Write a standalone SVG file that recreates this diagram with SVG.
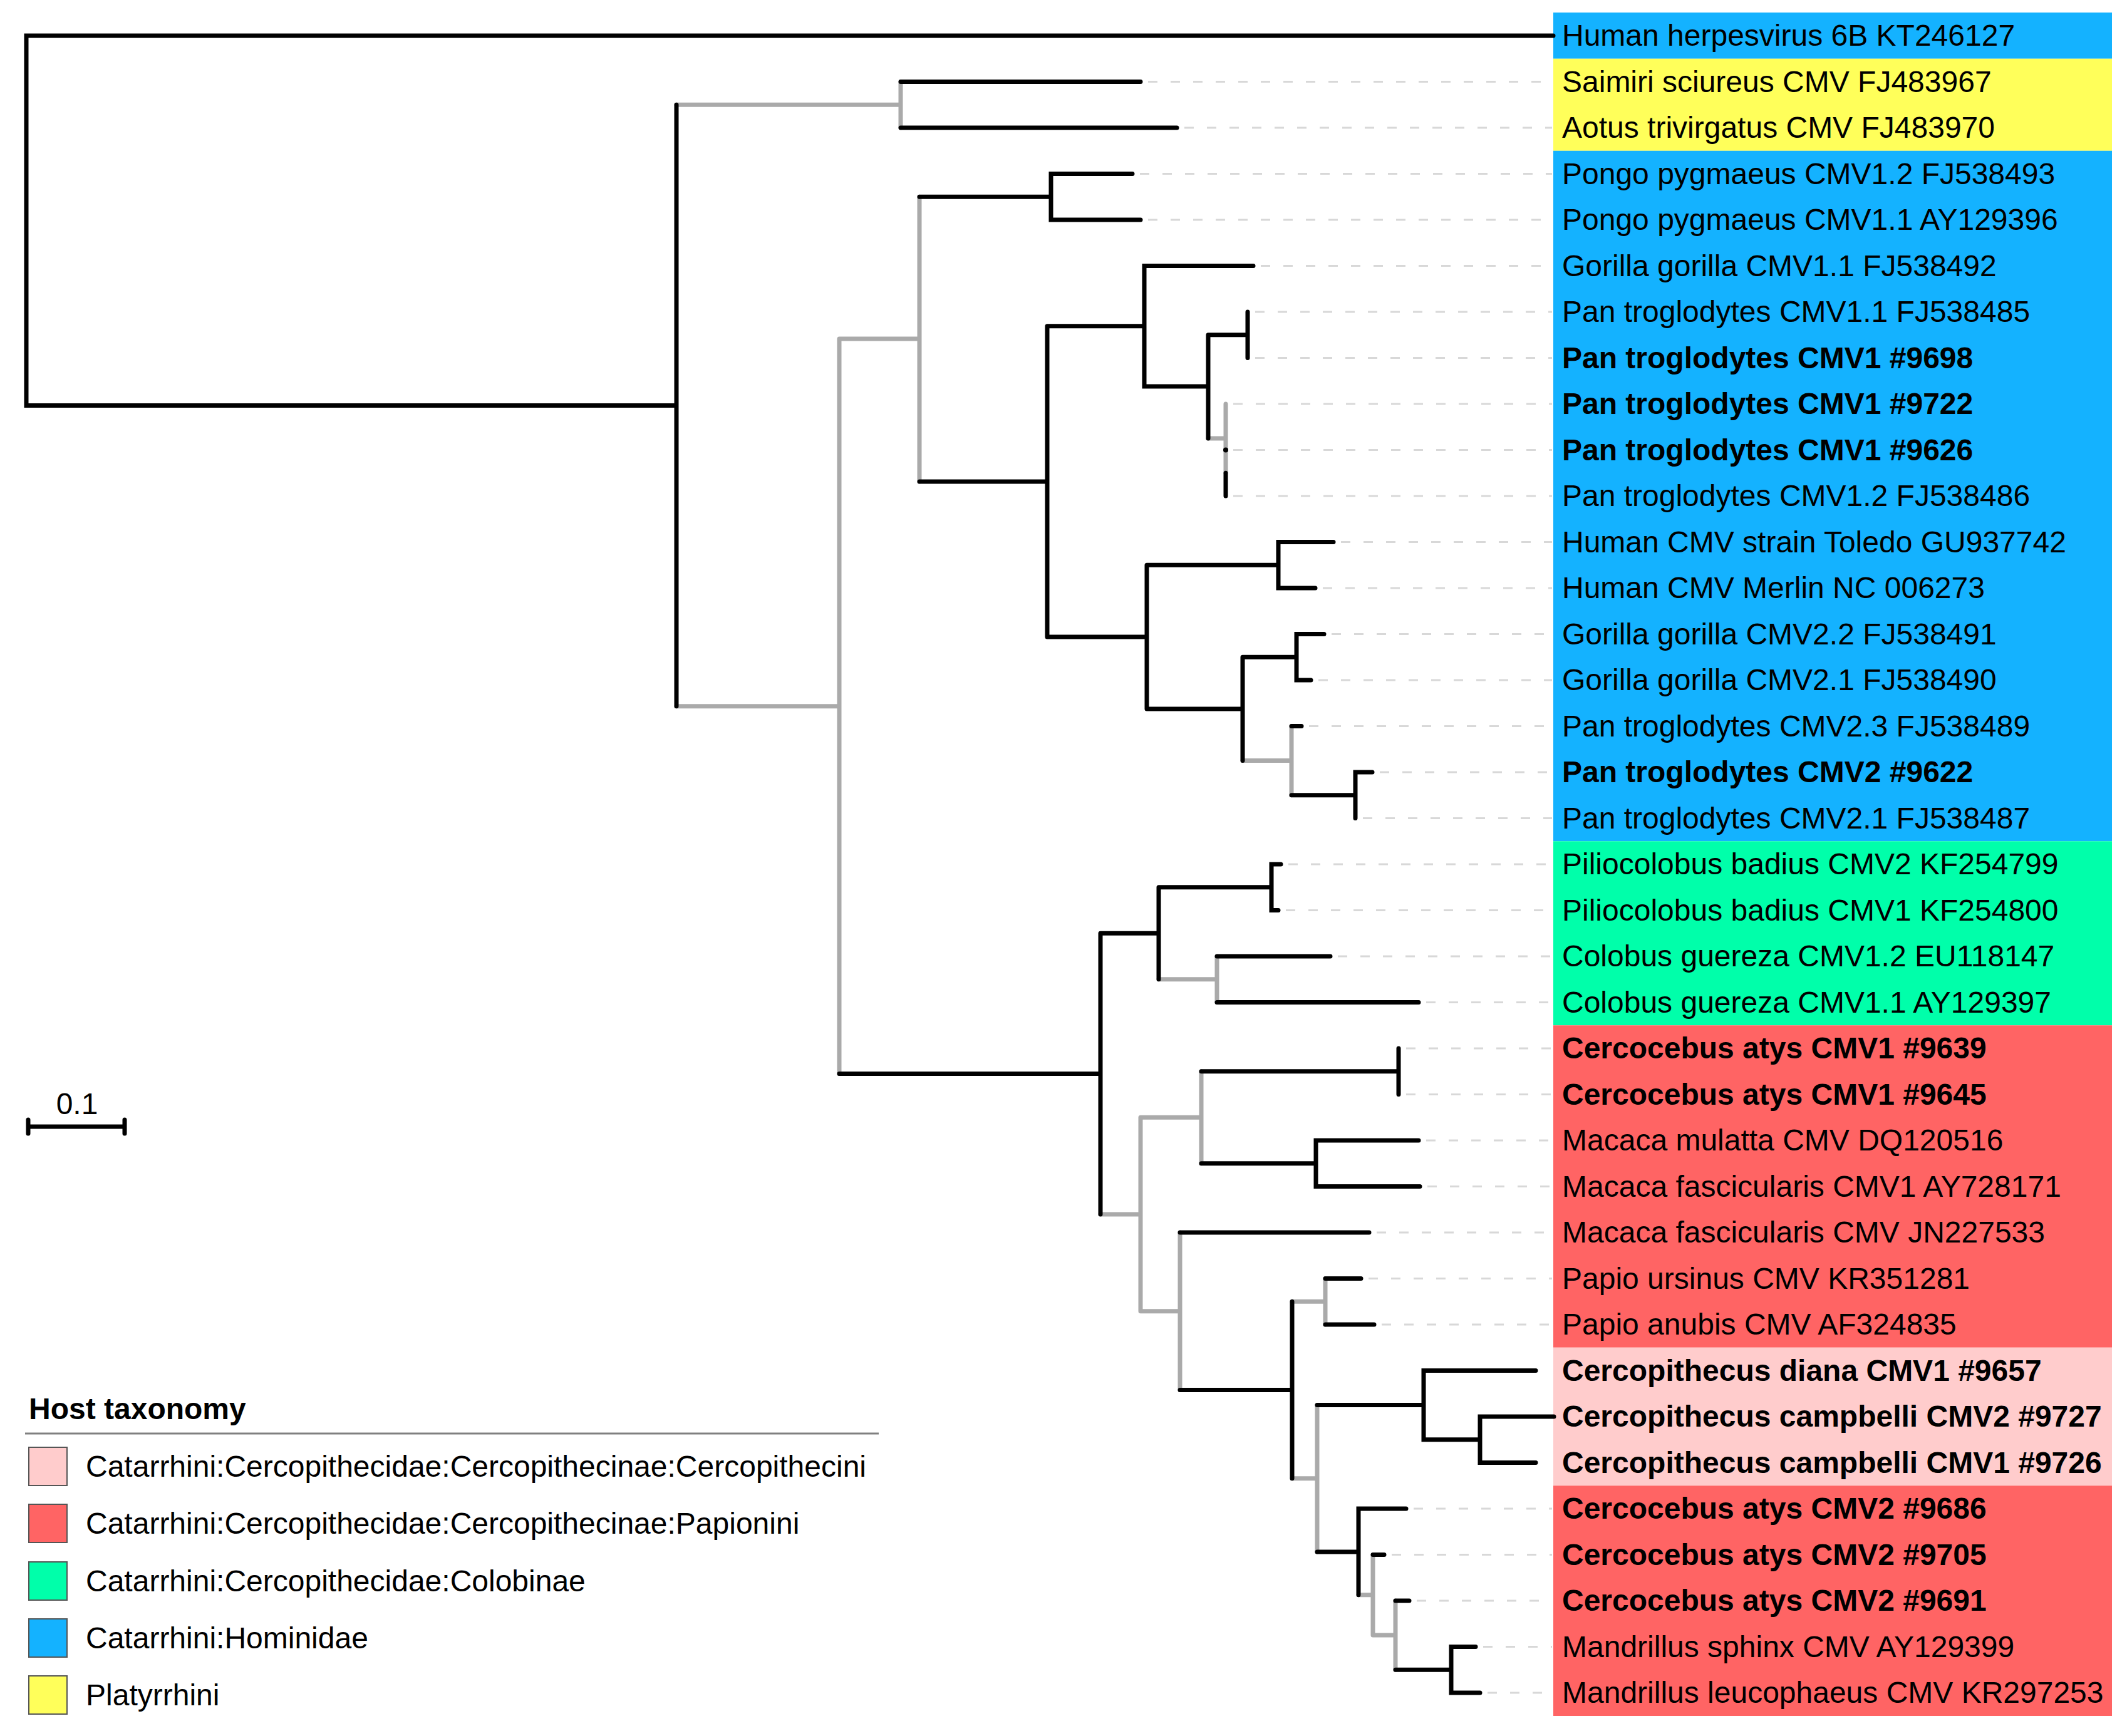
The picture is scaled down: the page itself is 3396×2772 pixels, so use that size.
<svg xmlns="http://www.w3.org/2000/svg" width="3396" height="2772" viewBox="0 0 3396 2772">
<style>
text{font-family:"Liberation Sans",Arial,sans-serif;font-size:48px;fill:#000}
.b{font-weight:bold}
.k{fill:none;stroke:#000;stroke-width:7;stroke-linecap:round;stroke-linejoin:miter}
.g{fill:none;stroke:#aaaaaa;stroke-width:7;stroke-linecap:round;stroke-linejoin:miter}
.d{fill:none;stroke:#d8d8d8;stroke-width:3;stroke-dasharray:15 21}
.blue{fill:#14b2ff}.yel{fill:#ffff5a}.grn{fill:#00ffaa}.red{fill:#ff6464}.pnk{fill:#ffcccc}
.lb{stroke:#555;stroke-width:2}
</style>
<rect width="3396" height="2772" fill="#fff"/>
<g id="bands">
<rect class="blue" x="2480" y="20" width="892" height="73.75"/>
<rect class="yel" x="2480" y="93.75" width="892" height="147"/>
<rect class="blue" x="2480" y="240.75" width="892" height="1102.5"/>
<rect class="grn" x="2480" y="1343.25" width="892" height="294"/>
<rect class="red" x="2480" y="1637.25" width="892" height="514.5"/>
<rect class="pnk" x="2480" y="2151.75" width="892" height="220.5"/>
<rect class="red" x="2480" y="2372.25" width="892" height="367.75"/>
</g>
<g id="leaders">
<path class="d" d="M1833 130.5H2478M1891 204H2478M1820 277.5H2478M1833 351H2478M2013 424.5H2478M2004 498H2478M2004 571.5H2478M1969 645H2478M1969 718.5H2478M1969 792H2478M2141 865.5H2478M2112 939H2478M2126 1012.5H2478M2105 1086H2478M2090 1159.5H2478M2203 1233H2478M2176 1306.5H2478M2057 1380H2478M2053 1453.5H2478M2136 1527H2478M2277 1600.5H2478M2245 1674H2478M2245 1747.5H2478M2277 1821H2478M2279 1894.5H2478M2198 1968H2478M2185 2041.5H2478M2206 2115H2478M2257 2409H2478M2222 2482.5H2478M2262 2556H2478M2368 2629.5H2478M2375 2703H2478"/>
</g>
<g id="connectors">
<path class="g" d="M1080 167.25H1438M1438 130.5V204M1080 1127.8H1340M1340 541V1714.6M1340 541H1468M1468 314.25V768.9M1929 700H1957M1957 645V755.25M1984 1214.6H2062M2062 1159.5V1269.75M1850 1563.75H1943M1943 1527V1600.5M1757 1939H1821M1821 1784.25V2093.75M1821 1784.25H1918M1918 1710.75V1857.75M1821 2093.75H1884M1884 1968V2219.5M2063 2078.25H2116M2116 2041.5V2115M2063 2360.75H2103M2103 2243.6V2477.9M2169 2546.75H2192M2192 2482.5V2611M2192 2611H2228M2228 2556V2666.25"/>
<path class="k" d="M2480 57H42V647.5H1080M1080 167.25V1127.8M1438 130.5H1821M1438 204H1879M1468 314.25H1678M1808 277.5H1678V351H1821M1468 768.9H1672M1672 520.75V1017M1672 520.75H1827M2001 424.5H1827V617H1929M1929 534.75V700M1929 534.75H1992M1992 498V571.5M1957 755.25V792M1672 1017H1831M1831 902.25V1131.9M1831 902.25H2041M2129 865.5H2041V939H2100M1831 1131.9H1984M1984 1049.25V1214.6M1984 1049.25H2070M2114 1012.5H2070V1086H2093M2062 1159.5H2078M2062 1269.75H2164M2191 1233H2164V1306.5M1340 1714.6H1757M1757 1490.25V1939M1757 1490.25H1850M1850 1416.75V1563.75M1850 1416.75H2030M2045 1380H2030V1453.5H2041M1943 1527H2124M1943 1600.5H2265M1918 1710.75H2233M2233 1674V1747.5M1918 1857.75H2101M2265 1821H2101V1894.5H2267M1884 1968H2186M1884 2219.5H2063M2063 2078.25V2360.75M2116 2041.5H2173M2116 2115H2194M2103 2243.6H2273M2452 2188.5H2273V2298.75H2363M2481 2262H2363V2335.5H2452M2103 2477.9H2169M2245 2409H2169V2546.75M2192 2482.5H2210M2228 2556H2250M2228 2666.25H2317M2356 2629.5H2317V2703H2363"/>
<circle cx="1957" cy="718.5" r="4" fill="#000"/>
</g>
<g id="leaf-0"><text x="2494" y="73">Human herpesvirus 6B KT246127</text></g>
<g id="leaf-1"><text x="2494" y="146.5">Saimiri sciureus CMV FJ483967</text></g>
<g id="leaf-2"><text x="2494" y="220">Aotus trivirgatus CMV FJ483970</text></g>
<g id="leaf-3"><text x="2494" y="293.5">Pongo pygmaeus CMV1.2 FJ538493</text></g>
<g id="leaf-4"><text x="2494" y="367">Pongo pygmaeus CMV1.1 AY129396</text></g>
<g id="leaf-5"><text x="2494" y="440.5">Gorilla gorilla CMV1.1 FJ538492</text></g>
<g id="leaf-6"><text x="2494" y="514">Pan troglodytes CMV1.1 FJ538485</text></g>
<g id="leaf-7"><text class="b" x="2494" y="587.5">Pan troglodytes CMV1 #9698</text></g>
<g id="leaf-8"><text class="b" x="2494" y="661">Pan troglodytes CMV1 #9722</text></g>
<g id="leaf-9"><text class="b" x="2494" y="734.5">Pan troglodytes CMV1 #9626</text></g>
<g id="leaf-10"><text x="2494" y="808">Pan troglodytes CMV1.2 FJ538486</text></g>
<g id="leaf-11"><text x="2494" y="881.5">Human CMV strain Toledo GU937742</text></g>
<g id="leaf-12"><text x="2494" y="955">Human CMV Merlin NC 006273</text></g>
<g id="leaf-13"><text x="2494" y="1028.5">Gorilla gorilla CMV2.2 FJ538491</text></g>
<g id="leaf-14"><text x="2494" y="1102">Gorilla gorilla CMV2.1 FJ538490</text></g>
<g id="leaf-15"><text x="2494" y="1175.5">Pan troglodytes CMV2.3 FJ538489</text></g>
<g id="leaf-16"><text class="b" x="2494" y="1249">Pan troglodytes CMV2 #9622</text></g>
<g id="leaf-17"><text x="2494" y="1322.5">Pan troglodytes CMV2.1 FJ538487</text></g>
<g id="leaf-18"><text x="2494" y="1396">Piliocolobus badius CMV2 KF254799</text></g>
<g id="leaf-19"><text x="2494" y="1469.5">Piliocolobus badius CMV1 KF254800</text></g>
<g id="leaf-20"><text x="2494" y="1543">Colobus guereza CMV1.2 EU118147</text></g>
<g id="leaf-21"><text x="2494" y="1616.5">Colobus guereza CMV1.1 AY129397</text></g>
<g id="leaf-22"><text class="b" x="2494" y="1690">Cercocebus atys CMV1 #9639</text></g>
<g id="leaf-23"><text class="b" x="2494" y="1763.5">Cercocebus atys CMV1 #9645</text></g>
<g id="leaf-24"><text x="2494" y="1837">Macaca mulatta CMV DQ120516</text></g>
<g id="leaf-25"><text x="2494" y="1910.5">Macaca fascicularis CMV1 AY728171</text></g>
<g id="leaf-26"><text x="2494" y="1984">Macaca fascicularis CMV JN227533</text></g>
<g id="leaf-27"><text x="2494" y="2057.5">Papio ursinus CMV KR351281</text></g>
<g id="leaf-28"><text x="2494" y="2131">Papio anubis CMV AF324835</text></g>
<g id="leaf-29"><text class="b" x="2494" y="2204.5">Cercopithecus diana CMV1 #9657</text></g>
<g id="leaf-30"><text class="b" x="2494" y="2278">Cercopithecus campbelli CMV2 #9727</text></g>
<g id="leaf-31"><text class="b" x="2494" y="2351.5">Cercopithecus campbelli CMV1 #9726</text></g>
<g id="leaf-32"><text class="b" x="2494" y="2425">Cercocebus atys CMV2 #9686</text></g>
<g id="leaf-33"><text class="b" x="2494" y="2498.5">Cercocebus atys CMV2 #9705</text></g>
<g id="leaf-34"><text class="b" x="2494" y="2572">Cercocebus atys CMV2 #9691</text></g>
<g id="leaf-35"><text x="2494" y="2645.5">Mandrillus sphinx CMV AY129399</text></g>
<g id="leaf-36"><text x="2494" y="2719">Mandrillus leucophaeus CMV KR297253</text></g>
<g id="scale">
<path class="k" d="M45 1799H199M45 1788V1810M199 1788V1810"/>
<text x="123" y="1779" text-anchor="middle">0.1</text>
</g>
<g id="legend">
<text class="b" x="46" y="2266">Host taxonomy</text>
<path d="M40 2289H1403" stroke="#808080" stroke-width="3"/>
<rect class="pnk lb" x="46" y="2311" width="61" height="61"/>
<text x="137" y="2358">Catarrhini:Cercopithecidae:Cercopithecinae:Cercopithecini</text>
<rect class="red lb" x="46" y="2402" width="61" height="61"/>
<text x="137" y="2449">Catarrhini:Cercopithecidae:Cercopithecinae:Papionini</text>
<rect class="grn lb" x="46" y="2494" width="61" height="61"/>
<text x="137" y="2541">Catarrhini:Cercopithecidae:Colobinae</text>
<rect class="blue lb" x="46" y="2585" width="61" height="61"/>
<text x="137" y="2632">Catarrhini:Hominidae</text>
<rect class="yel lb" x="46" y="2676" width="61" height="61"/>
<text x="137" y="2723">Platyrrhini</text>
</g>
</svg>
